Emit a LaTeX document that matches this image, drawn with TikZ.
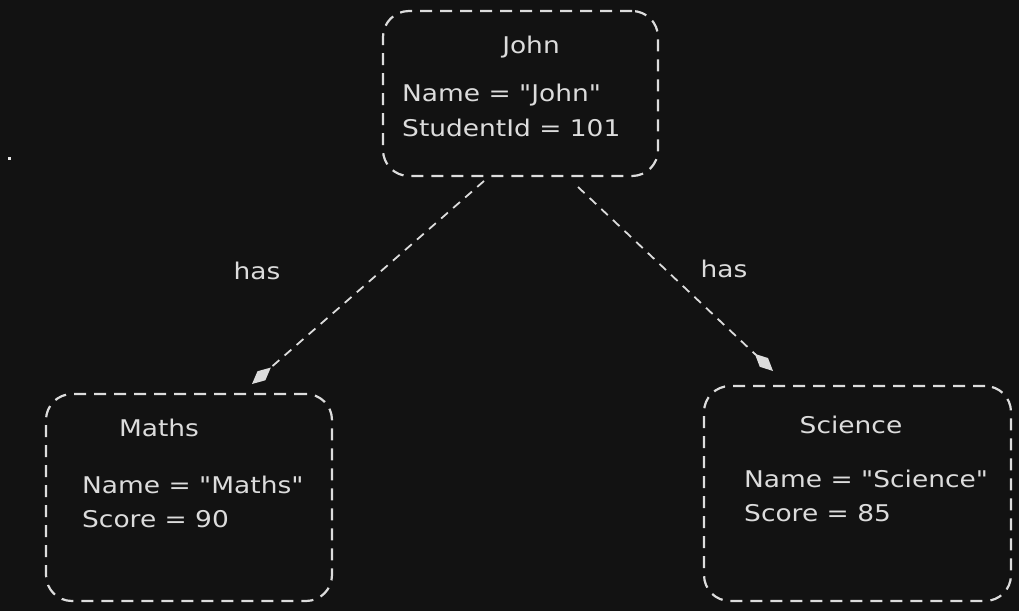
\documentclass[tikz,border=0pt]{standalone}
\usepackage{fontspec}
\setmainfont[FakeStretch=1.15,Ligatures=TeXOff]{DejaVu Sans}
\usetikzlibrary{arrows.meta}
\definecolor{bg}{HTML}{121212}
\definecolor{ink}{HTML}{DCDCDC}
\begin{document}
\begin{tikzpicture}[x=1pt,y=-1pt,
  box/.style={draw=ink, line width=2.2pt, dash pattern=on 12pt off 8pt, rounded corners=26pt, inner sep=0pt},
  ttl/.style={text=ink, font=\fontsize{23}{27}\selectfont, inner sep=0pt},
  txt/.style={ttl, anchor=west},
  link/.style={draw=ink, line width=1.8pt, dash pattern=on 9pt off 7pt, -{Diamond[length=25pt,width=12pt,line width=0pt,fill=ink]}}
]
\fill[bg] (0,0) rectangle (1019,611);
\useasboundingbox (0,0) rectangle (1019,611);
\fill[ink!70] (7.5,156.5) rectangle (10.5,159.5);

\node[box, minimum width=275pt, minimum height=165pt] (john) at (520.5,93.5) {};
\node[box, minimum width=286pt, minimum height=207pt] (maths) at (189,497.5) {};
\node[box, minimum width=307pt, minimum height=215pt] (science) at (857.5,493.5) {};

\node[ttl] (johnT) at (531,47) {John};
\node[txt] (johnA) at (402,95) {Name = "John"};
\node[txt] (johnB) at (402,128) {StudentId = 101};

\node[ttl] (mathsT) at (159,428) {Maths};
\node[txt] (mathsA) at (82,485) {Name = "Maths"};
\node[txt] (mathsB) at (82,519) {Score = 90};

\node[ttl] (sciT) at (851,425) {Science};
\node[txt] (sciA) at (744,479) {Name = "Science"};
\node[txt] (sciB) at (744,513) {Score = 85};

\coordinate (l1) at (484,181);
\coordinate (l2) at (252,384);
\coordinate (r1) at (578,187);
\coordinate (r2) at (773,371);
\draw[link] (l1) -- (l2);
\draw[link] (r1) -- (r2);

\node[ttl] (hasL) at (257,271) {has};
\node[ttl] (hasR) at (724,269) {has};
\end{tikzpicture}
\end{document}
